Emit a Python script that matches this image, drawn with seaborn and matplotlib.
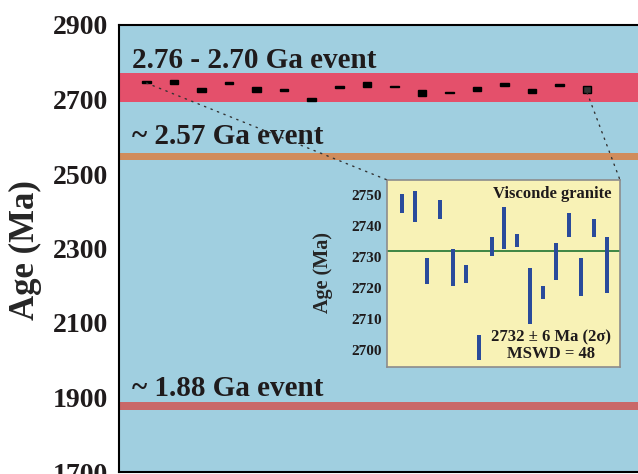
import matplotlib
matplotlib.use("Agg")
import matplotlib.pyplot as plt
import matplotlib.transforms as mtransforms
from matplotlib.patches import ConnectionPatch
from matplotlib.ticker import MultipleLocator
import pandas as pd
import seaborn as sns

# Zircon spot ages (Ma) with 2-sigma half-widths, Visconde granite
grain = list(range(1, 18))
age = [2747.2, 2746.2, 2725.5, 2745.3, 2726.5, 2724.5, 2700.8, 2733.4, 2739.3,
       2735.3, 2717.5, 2718.5, 2728.4, 2740.3, 2723.5, 2739.3, 2727.5]
err2s = [3.0, 5.1, 4.1, 3.0, 5.9, 3.0, 4.0, 3.0, 6.9,
         2.0, 9.0, 2.0, 6.0, 4.0, 6.0, 3.0, 9.0]
mean_age = 2732
mean_err = 6
mswd = 48

# Regional events (Ma): lower and upper bounds of each band
event_low = [2692, 2538, 1866]
event_high = [2770, 2556, 1887]
event_labels = ["2.76 - 2.70 Ga event", "~ 2.57 Ga event", "~ 1.88 Ga event"]
event_label_y = [2784, 2580, 1905]

main_ticks = [1700, 1900, 2100, 2300, 2500, 2700, 2900]
inset_ticks = [2700, 2710, 2720, 2730, 2740, 2750]

BLUE = "#a0cfe0"
EVENT_COLORS = ["#e4506b", "#d08c5c", "#c96868"]
YELLOW = "#f8f2b6"
BAR_BLUE = "#2a4b9b"
GREEN = "#2f7d3a"
INK = "#1f1b1c"

sns.set_style("white")
plt.rcParams["font.family"] = ["Liberation Serif", "DejaVu Serif"]
plt.rcParams["font.weight"] = "bold"
plt.rcParams["axes.labelweight"] = "bold"
plt.rcParams["text.color"] = INK
plt.rcParams["ytick.color"] = INK

df = pd.DataFrame({"grain": grain, "age": age, "err": err2s})
df["low"] = df["age"] - df["err"]
df["span"] = 2 * df["err"]

W, H = 638, 474
fig = plt.figure(figsize=(W / 100, H / 100), dpi=100)

# ---- main age axis -------------------------------------------------------
ax = fig.add_axes([119 / W, 2 / H, 519 / W, 447 / H])
ax.set_facecolor(BLUE)
ax.set_xlim(0, 18.85)
ax.set_ylim(1700, 2900)
ax.set_yticks(main_ticks)
ax.yaxis.set_minor_locator(MultipleLocator(100))
ax.set_xticks([])
ax.tick_params(axis="y", which="major", direction="in", length=2, width=1.2,
               labelsize=20, pad=8)
ax.tick_params(axis="y", which="minor", direction="in", length=4, width=1.0)
sns.despine(ax=ax, right=True, top=False, left=False, bottom=False)
for side in ("left", "top", "bottom"):
    ax.spines[side].set_color("black")
    ax.spines[side].set_linewidth(1.5)

for lo, hi, c in zip(event_low, event_high, EVENT_COLORS):
    ax.axhspan(lo, hi, color=c, lw=0, zorder=1)

blend = mtransforms.blended_transform_factory(ax.transAxes, ax.transData)
for lab, y in zip(event_labels, event_label_y):
    ax.text(0.026, y, lab, transform=blend, fontsize=21, fontweight="bold",
            ha="left", va="baseline", zorder=5)

main_colors = ["black"] * (len(df) - 1) + ["#333333"]
ax.bar(df["grain"], df["span"], bottom=df["low"], width=0.31,
       color=main_colors, edgecolor="black", linewidth=1.0, zorder=3)

ax.set_ylabel("Age (Ma)", fontsize=25, fontweight="bold")
ax.yaxis.set_label_coords(-0.148, 0.497)

# ---- inset: Visconde granite --------------------------------------------
ins = fig.add_axes([387.3 / W, (H - 366.7) / H, 232.7 / W, 186.7 / H])
ins.set_facecolor(YELLOW)
ins.set_xlim(-0.12, 18.0)
ins.set_ylim(2694.6, 2754.8)
ins.set_xticks([])
ins.set_yticks(inset_ticks)
ins.tick_params(axis="y", direction="out", length=3, width=0.8,
                labelsize=11, pad=1, color="#555555")
for s in ins.spines.values():
    s.set_color("#8c8c8c")
    s.set_linewidth(1.2)

ins.axhline(mean_age, color=GREEN, lw=1.3, zorder=2)
ins.bar(df["grain"], df["span"], bottom=df["low"], width=0.31,
        color=BAR_BLUE, lw=0, zorder=3)

ins.set_ylabel("Age (Ma)", fontsize=14.5, fontweight="bold")
ins.yaxis.set_label_coords(-0.233, 0.505)

ins.text(0.964, 0.925, "Visconde granite", transform=ins.transAxes,
         fontsize=12, fontweight="bold", ha="right", va="center")
ins.text(0.7056, 0.112, f"{mean_age} \u00b1 {mean_err} Ma (2\u03c3)\nMSWD = {mswd}",
         transform=ins.transAxes, fontsize=12, fontweight="bold",
         ha="center", va="center", multialignment="center", linespacing=1.1)

# dotted leaders from the grain markers to the inset corners
for gx, corner in ((0, (0, 1)), (len(df) - 1, (1, 1))):
    con = ConnectionPatch(xyA=(df["grain"][gx], df["low"][gx]), coordsA=ax.transData,
                          xyB=corner, coordsB=ins.transAxes,
                          color="#333333", lw=1.0, linestyle=(0, (1, 4)), zorder=4)
    fig.add_artist(con)

fig.savefig("out.png", dpi=100)
